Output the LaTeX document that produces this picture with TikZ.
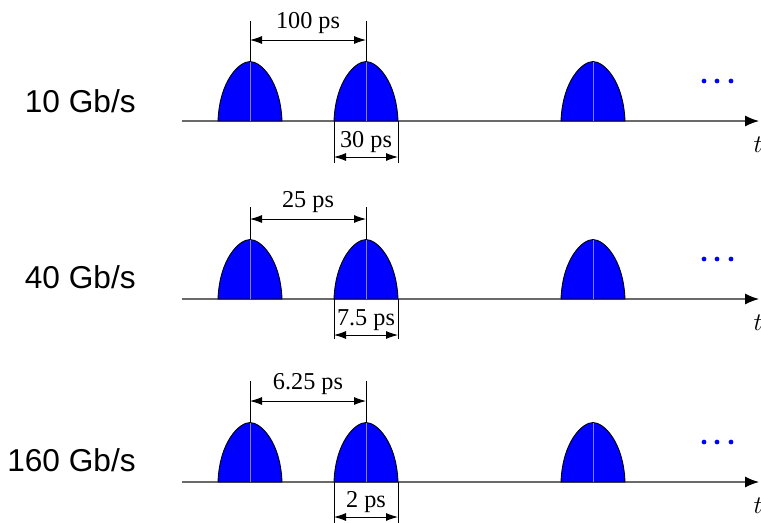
\documentclass[tikz,border=0pt]{standalone}
\usepackage{fontspec}
\setmainfont{Liberation Serif}
\newfontfamily\ratefont{Liberation Sans}
\usetikzlibrary{arrows.meta}
\definecolor{PulseBlue}{HTML}{0000FF}
\definecolor{PulseSeam}{HTML}{7F7FFF}
\definecolor{AxisGray}{HTML}{6A6A6A}

% one pulse: #1 name of its peak, #2 centre x
\newcommand{\drawpulse}[2]{%
  \filldraw[fill=PulseBlue,draw=black,line width=0.5pt]
    (#2-32,0) .. controls (#2-30.5,40) and (#2-11,59.5) .. (#2,59.5)
    .. controls (#2+11,59.5) and (#2+30.5,40) .. (#2+32,0) -- cycle;
  \coordinate (#1) at (#2,59.5);
  \draw[PulseSeam,line width=0.3pt] (#2,0) -- (#1);}

\tikzset{
  timeaxis/.style={AxisGray,line width=0.7pt,-{Latex[length=2.8mm,width=2.2mm,color=black]}},
  dimline/.style={black,line width=0.5pt},
  dimarrow/.style={black,line width=0.5pt,{Latex[length=2.4mm,width=1.6mm]}-{Latex[length=2.4mm,width=1.6mm]}},
  pslabel/.style={font=\fontsize{13.8}{15}\selectfont,inner sep=0pt},
  ratelabel/.style={font=\ratefont\fontsize{18}{20}\selectfont,anchor=east,inner sep=0pt},
  morepulses/.style={circle,fill=PulseBlue,inner sep=0pt,minimum size=2.7pt}
}

\begin{document}
\begin{tikzpicture}[x=0.02cm,y=0.02cm]
  \useasboundingbox (0,0) rectangle (761,-522);

  % 10 Gb/s
  \begin{scope}[shift={(0,-121)}]
    \coordinate (ax1s) at (182,0);
    \coordinate (ax1e) at (759,0);
    \draw[timeaxis] (ax1s) -- (ax1e);
    \node[pslabel] (t1) at (758,-24) {$t$};
    \node[ratelabel] (rate1) at (136,20) {10 Gb/s};
    \drawpulse{p1a}{250}
    \drawpulse{p1b}{366}
    \drawpulse{p1c}{593}
    \node[morepulses] (d1a) at (704,40) {};
    \node[morepulses] (d1b) at (717,40) {};
    \node[morepulses] (d1c) at (731,40) {};
    \coordinate (u1a) at (250,100);
    \coordinate (u1b) at (366,100);
    \draw[dimline] (p1a) -- (u1a);
    \draw[dimline] (p1b) -- (u1b);
    \draw[dimarrow] (250,81) -- (366,81);
    \node[pslabel] (per1) at (308,98) {100 ps};
    \coordinate (w1a) at (334,0);
    \coordinate (w1b) at (398,0);
    \coordinate (l1a) at (334,-42);
    \coordinate (l1b) at (398,-42);
    \draw[dimline] (w1a) -- (l1a);
    \draw[dimline] (w1b) -- (l1b);
    \draw[dimarrow] (334,-36) -- (398,-36);
    \node[pslabel] (wid1) at (366,-21) {30 ps};
  \end{scope}

  % 40 Gb/s
  \begin{scope}[shift={(0,-299)}]
    \coordinate (ax2s) at (182,0);
    \coordinate (ax2e) at (759,0);
    \draw[timeaxis] (ax2s) -- (ax2e);
    \node[pslabel] (t2) at (758,-24) {$t$};
    \node[ratelabel] (rate2) at (136,22) {40 Gb/s};
    \drawpulse{p2a}{250}
    \drawpulse{p2b}{366}
    \drawpulse{p2c}{593}
    \node[morepulses] (d2a) at (704,40) {};
    \node[morepulses] (d2b) at (717,40) {};
    \node[morepulses] (d2c) at (731,40) {};
    \coordinate (u2a) at (250,92);
    \coordinate (u2b) at (366,92);
    \draw[dimline] (p2a) -- (u2a);
    \draw[dimline] (p2b) -- (u2b);
    \draw[dimarrow] (250,80) -- (366,80);
    \node[pslabel] (per2) at (308,97) {25 ps};
    \coordinate (w2a) at (334,0);
    \coordinate (w2b) at (398,0);
    \coordinate (l2a) at (334,-40);
    \coordinate (l2b) at (398,-40);
    \draw[dimline] (w2a) -- (l2a);
    \draw[dimline] (w2b) -- (l2b);
    \draw[dimarrow] (334,-36) -- (398,-36);
    \node[pslabel] (wid2) at (366,-21) {7.5 ps};
  \end{scope}

  % 160 Gb/s
  \begin{scope}[shift={(0,-482)}]
    \coordinate (ax3s) at (182,0);
    \coordinate (ax3e) at (759,0);
    \draw[timeaxis] (ax3s) -- (ax3e);
    \node[pslabel] (t3) at (758,-24) {$t$};
    \node[ratelabel] (rate3) at (136,22) {160 Gb/s};
    \drawpulse{p3a}{250}
    \drawpulse{p3b}{366}
    \drawpulse{p3c}{593}
    \node[morepulses] (d3a) at (704,40) {};
    \node[morepulses] (d3b) at (717,40) {};
    \node[morepulses] (d3c) at (731,40) {};
    \coordinate (u3a) at (250,101);
    \coordinate (u3b) at (366,101);
    \draw[dimline] (p3a) -- (u3a);
    \draw[dimline] (p3b) -- (u3b);
    \draw[dimarrow] (250,81) -- (366,81);
    \node[pslabel] (per3) at (308,98) {6.25 ps};
    \coordinate (w3a) at (334,0);
    \coordinate (w3b) at (398,0);
    \coordinate (l3a) at (334,-42);
    \coordinate (l3b) at (398,-42);
    \draw[dimline] (w3a) -- (l3a);
    \draw[dimline] (w3b) -- (l3b);
    \draw[dimarrow] (334,-35) -- (398,-35);
    \node[pslabel] (wid3) at (366,-20) {2 ps};
  \end{scope}
\end{tikzpicture}
\end{document}
